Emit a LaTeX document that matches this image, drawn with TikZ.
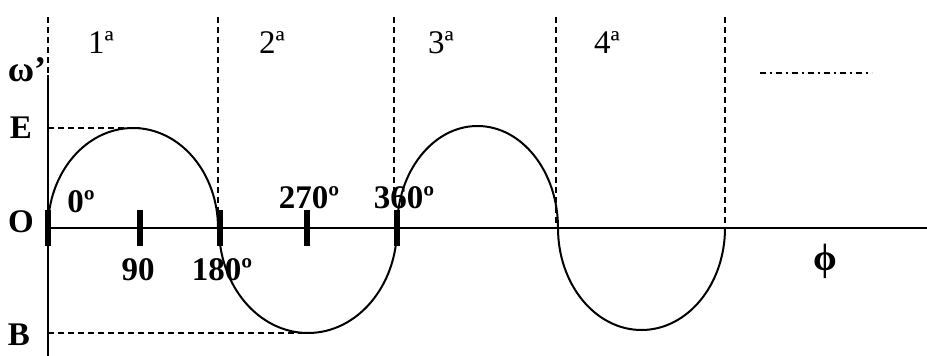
\documentclass[tikz,border=0pt]{standalone}
\usepackage{fontspec}
\setmainfont{Liberation Serif}
\usetikzlibrary{positioning}

\begin{document}
\begin{tikzpicture}[x=1pt, y=-1pt, line join=round,
    every node/.style={font=\fontsize{33}{36}\selectfont\bfseries, inner sep=0pt},
    quarter/.style={font=\fontsize{33}{36}\selectfont},
    guide/.style={dashed, dash pattern=on 6pt off 4pt, line width=1.3pt},
    wave/.style={line width=2pt},
    tickbar/.style={line width=6pt}]
    \useasboundingbox (0,0) rectangle (927,356);

    % Axes
    \draw[guide] (48,17) -- (48,75);
    \draw[line width=1.4pt] (48,75) -- (48,356);
    \draw[line width=2pt] (48,228) -- (927,228);

    % Dashed borders of the quarters
    \draw[guide] (218,17) -- (218,210);
    \draw[guide] (394,17) -- (394,200);
    \draw[guide] (556,17) -- (556,228);
    \draw[guide] (725,17) -- (725,228);

    % Quarter labels
    \node[quarter] (q1) at (101,43) {1ª};
    \node[quarter] (q2) at (272,43) {2ª};
    \node[quarter] (q3) at (441,43) {3ª};
    \node[quarter] (q4) at (607,43) {4ª};

    % Dash-dot line
    \draw[line width=1.3pt, dash pattern=on 6pt off 4pt on 2pt off 4pt] (760,73) -- (872,73);

    % Wave
    \draw[wave] (48,228) arc[start angle=180, end angle=360, x radius=85, y radius=100];
    \draw[wave] (219,228) arc[start angle=180, end angle=0, x radius=89, y radius=105];
    \draw[wave] (397,228) arc[start angle=180, end angle=360, x radius=80.5, y radius=102];
    \draw[wave] (558,228) arc[start angle=180, end angle=0, x radius=83.5, y radius=102];

    % E and B levels
    \draw[guide] (48,128) -- (140,128);
    \draw[guide] (48,333) -- (313,333);

    % Ticks
    \foreach \x in {48,140,220,307,397}
        \draw[tickbar] (\x,210) -- (\x,246);

    % Axis labels
    \node[font=\fontsize{36}{38}\selectfont\bfseries] (omega) at (27,70) {ω’};
    \node (lblE) at (21,128) {E};
    \node (lblO) at (21,222) {O};
    \node (lblB) at (19,335) {B};
    \node[font=\fontsize{38}{40}\selectfont\bfseries] (phi) at (825,261) {ϕ};

    % Angle labels
    \node (a0) at (81,202) {0º};
    \node (a90) at (138,270) {90};
    \node (a180) at (222,270) {180º};
    \node (a270) at (309,198) {270º};
    \node (a360) at (404,198) {360º};
\end{tikzpicture}
\end{document}
